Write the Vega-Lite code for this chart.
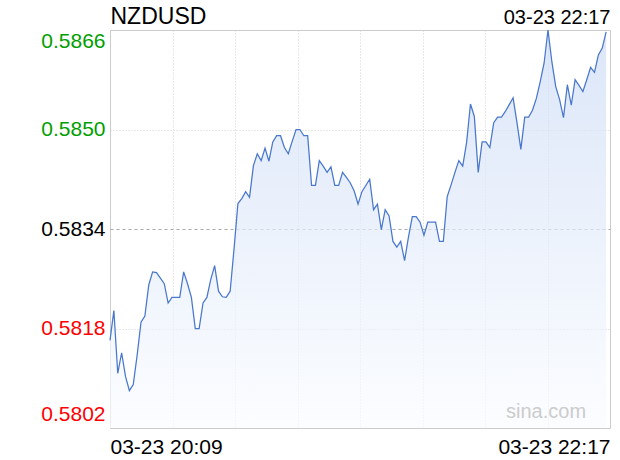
{
  "$schema": "https://vega.github.io/schema/vega-lite/v6.json",
  "width": 500,
  "height": 398,
  "autosize": {"type": "none"},
  "padding": {"top": 30, "left": 110, "right": 10, "bottom": 32},
  "background": "white",
  "config": {
    "view": {"stroke": "#cccccc", "strokeWidth": 1},
    "font": "Liberation Sans",
    "axis": {"labelFont": "Liberation Sans"}
  },
  "datasets": {
    "quotes": [
      {"m":0,"p":0.58161},{"m":1,"p":0.58209},{"m":2,"p":0.58108},{"m":3,"p":0.58141},{"m":4,"p":0.58103},
      {"m":5,"p":0.58080},{"m":6,"p":0.58090},{"m":7,"p":0.58137},{"m":8,"p":0.58190},{"m":9,"p":0.58200},
      {"m":10,"p":0.58250},{"m":11,"p":0.58271},{"m":12,"p":0.58270},{"m":13,"p":0.58261},{"m":14,"p":0.58252},
      {"m":15,"p":0.58221},{"m":16,"p":0.58230},{"m":17,"p":0.58230},{"m":18,"p":0.58230},{"m":19,"p":0.58271},
      {"m":20,"p":0.58252},{"m":21,"p":0.58230},{"m":22,"p":0.58180},{"m":23,"p":0.58180},{"m":24,"p":0.58221},
      {"m":25,"p":0.58230},{"m":26,"p":0.58259},{"m":27,"p":0.58281},{"m":28,"p":0.58240},{"m":29,"p":0.58231},
      {"m":30,"p":0.58230},{"m":31,"p":0.58240},{"m":32,"p":0.58308},{"m":33,"p":0.58381},{"m":34,"p":0.58389},
      {"m":35,"p":0.58400},{"m":36,"p":0.58391},{"m":37,"p":0.58442},{"m":38,"p":0.58461},{"m":39,"p":0.58450},
      {"m":40,"p":0.58470},{"m":41,"p":0.58449},{"m":42,"p":0.58480},{"m":43,"p":0.58490},{"m":44,"p":0.58490},
      {"m":45,"p":0.58471},{"m":46,"p":0.58461},{"m":47,"p":0.58481},{"m":48,"p":0.58500},{"m":49,"p":0.58500},
      {"m":50,"p":0.58490},{"m":51,"p":0.58490},{"m":52,"p":0.58410},{"m":53,"p":0.58410},{"m":54,"p":0.58450},
      {"m":55,"p":0.58441},{"m":56,"p":0.58431},{"m":57,"p":0.58440},{"m":58,"p":0.58410},{"m":59,"p":0.58410},
      {"m":60,"p":0.58431},{"m":61,"p":0.58423},{"m":62,"p":0.58414},{"m":63,"p":0.58401},{"m":64,"p":0.58380},
      {"m":65,"p":0.58400},{"m":66,"p":0.58410},{"m":67,"p":0.58420},{"m":68,"p":0.58371},{"m":69,"p":0.58380},
      {"m":70,"p":0.58339},{"m":71,"p":0.58371},{"m":72,"p":0.58361},{"m":73,"p":0.58320},{"m":74,"p":0.58311},
      {"m":75,"p":0.58320},{"m":76,"p":0.58289},{"m":77,"p":0.58327},{"m":78,"p":0.58360},{"m":79,"p":0.58360},
      {"m":80,"p":0.58351},{"m":81,"p":0.58330},{"m":82,"p":0.58351},{"m":83,"p":0.58351},{"m":84,"p":0.58351},
      {"m":85,"p":0.58320},{"m":86,"p":0.58320},{"m":87,"p":0.58392},{"m":88,"p":0.58411},{"m":89,"p":0.58431},
      {"m":90,"p":0.58450},{"m":91,"p":0.58441},{"m":92,"p":0.58479},{"m":93,"p":0.58541},{"m":94,"p":0.58521},
      {"m":95,"p":0.58431},{"m":96,"p":0.58480},{"m":97,"p":0.58480},{"m":98,"p":0.58471},{"m":99,"p":0.58511},
      {"m":100,"p":0.58520},{"m":101,"p":0.58520},{"m":102,"p":0.58529},{"m":103,"p":0.58540},{"m":104,"p":0.58551},
      {"m":105,"p":0.58511},{"m":106,"p":0.58468},{"m":107,"p":0.58520},{"m":108,"p":0.58520},{"m":109,"p":0.58531},
      {"m":110,"p":0.58550},{"m":111,"p":0.58577},{"m":112,"p":0.58607},{"m":113,"p":0.58660},{"m":114,"p":0.58609},
      {"m":115,"p":0.58569},{"m":116,"p":0.58548},{"m":117,"p":0.58519},{"m":118,"p":0.58572},{"m":119,"p":0.58539},
      {"m":120,"p":0.58580},{"m":121,"p":0.58571},{"m":122,"p":0.58561},{"m":123,"p":0.58580},{"m":124,"p":0.58600},
      {"m":125,"p":0.58592},{"m":126,"p":0.58620},{"m":127,"p":0.58631},{"m":128,"p":0.58657}
    ],
    "mark": [{"label": "sina.com"}]
  },
  "resolve": {"axis": {"x": "independent", "y": "independent"}},
  "layer": [
    {
      "data": {"name": "quotes"},
      "mark": {
        "type": "area",
        "line": {"color": "#4877cc", "strokeWidth": 1.25},
        "color": {
          "gradient": "linear",
          "x1": 0, "y1": 0, "x2": 0, "y2": 1,
          "stops": [
            {"offset": 0, "color": "#cddcf6"},
            {"offset": 1, "color": "#fafcff"}
          ]
        }
      },
      "encoding": {
        "x": {
          "field": "m",
          "type": "quantitative",
          "scale": {"domain": [0, 129], "nice": false, "zero": false},
          "axis": {
            "orient": "bottom",
            "title": null,
            "values": [0, 16.125, 32.25, 48.375, 64.5, 80.625, 96.75, 112.875, 129],
            "labelExpr": "datum.value == 0 ? '03-23 20:09' : (datum.value == 129 ? '03-23 22:17' : '')",
            "labelFlush": true,
            "labelFontSize": 21,
            "labelColor": "#000000",
            "labelPadding": 8,
            "labelBaseline": "top",
            "ticks": false,
            "tickSize": 0,
            "domain": false,
            "grid": true,
            "gridColor": "#d0d0d0",
            "gridDash": [1, 2],
            "gridOpacity": {"condition": {"test": "datum.value == 0 || datum.value == 129", "value": 0}, "value": 1}
          }
        },
        "y": {
          "field": "p",
          "type": "quantitative",
          "scale": {"domain": [0.5802, 0.5866], "nice": false, "zero": false},
          "axis": {
            "orient": "left",
            "title": null,
            "values": [0.5802, 0.5818, 0.5834, 0.585, 0.5866],
            "format": ".4f",
            "labelFlush": true,
            "labelFontSize": 21,
            "labelPadding": 5,
            "labelOffset": {"condition": {"test": "datum.value < 0.5803", "value": -4}, "value": 0},
            "labelColor": {
              "condition": [
                {"test": "datum.value > 0.58345", "value": "#00a000"},
                {"test": "datum.value < 0.58335", "value": "#ff0000"}
              ],
              "value": "#000000"
            },
            "ticks": false,
            "tickSize": 0,
            "domain": false,
            "grid": true,
            "gridColor": {"condition": {"test": "datum.value > 0.58335 && datum.value < 0.58345", "value": "#aaaaaa"}, "value": "#d0d0d0"},
            "gridDash": {"condition": {"test": "datum.value > 0.58335 && datum.value < 0.58345", "value": [3, 3]}, "value": [1, 2]},
            "gridOpacity": {"condition": {"test": "datum.value < 0.5803 || datum.value > 0.5865", "value": 0}, "value": 1}
          }
        },
        "y2": {"datum": 0.5802}
      }
    },
    {
      "data": {"name": "mark"},
      "mark": {"type": "text", "fontSize": 20, "color": "#cccccc", "align": "center", "baseline": "middle", "font": "Liberation Sans"},
      "encoding": {
        "text": {"field": "label"},
        "x": {
          "datum": 112.5,
          "type": "quantitative",
          "axis": {
            "orient": "top",
            "title": null,
            "values": [0, 129],
            "labelExpr": "datum.value == 0 ? 'NZDUSD' : '03-23 22:17'",
            "labelFlush": true,
            "labelFontSize": {"condition": {"test": "datum.value == 0", "value": 23}, "value": 20},
            "labelColor": "#000000",
            "labelBaseline": "alphabetic",
            "labelPadding": 7,
            "ticks": false,
            "tickSize": 0,
            "domain": false,
            "grid": false
          }
        },
        "y": {"datum": 0.58046, "type": "quantitative", "axis": null}
      }
    }
  ]
}
